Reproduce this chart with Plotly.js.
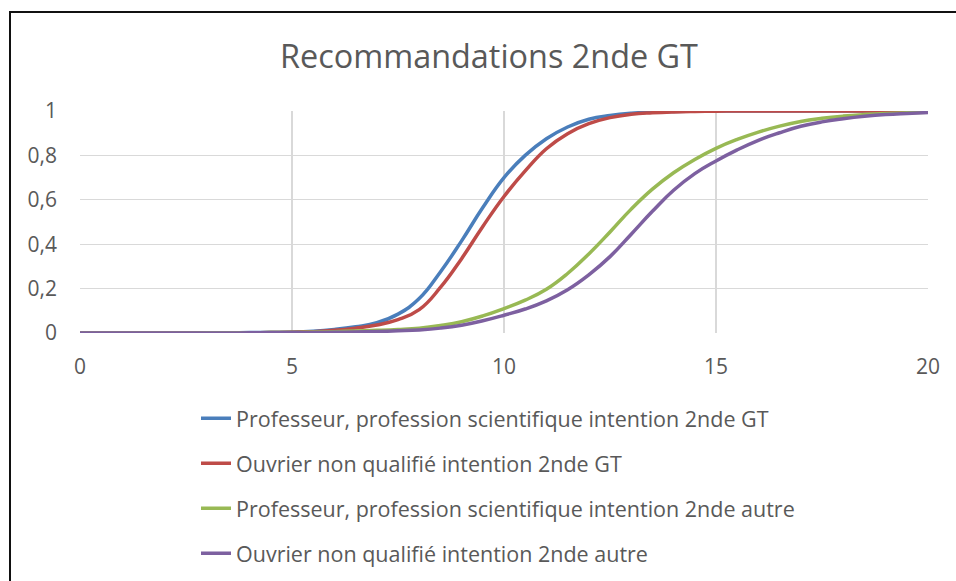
<!DOCTYPE html>
<html>
<head>
<meta charset="utf-8">
<script src="https://cdn.plot.ly/plotly-3.0.1.min.js"></script>
<style>
  html, body { margin: 0; padding: 0; background: #ffffff; }
  #wrap { position: relative; width: 956px; height: 581px; overflow: hidden; }
  #chart { width: 956px; height: 581px; }
  #frame { position: absolute; left: 9px; top: 11px; right: -4px; bottom: -4px;
           border-left: 2px solid #111; border-top: 2px solid #111; pointer-events: none; }
</style>
</head>
<body>
<div id="wrap">
  <div id="chart"></div>
  <div id="frame"></div>
</div>
<script>
const notes = [0,0.5,1,1.5,2,2.5,3,3.5,4,4.5,5,5.5,6,6.5,7,7.5,8,8.5,9,9.5,10,
               10.5,11,11.5,12,12.5,13,13.5,14,14.5,15,15.5,16,16.5,17,17.5,18,18.5,19,19.5,20];

const profGT = [0,0,0,0,0,0,0.001,0.001,0.002,0.003,0.004,0.008,0.016,0.028,0.046,0.085,0.155,0.275,0.415,0.565,0.70,
                0.80,0.875,0.928,0.963,0.98,0.99,0.995,0.998,0.999,1,1,1,1,1,1,1,1,1,1,1];
const ouvGT  = [0,0,0,0,0,0,0,0.001,0.001,0.002,0.003,0.006,0.012,0.022,0.036,0.06,0.105,0.205,0.335,0.48,0.615,
                0.73,0.83,0.898,0.943,0.97,0.985,0.992,0.996,0.998,0.999,1,1,1,1,1,1,1,1,1,1];
const profAutre = [0,0,0,0,0,0,0.001,0.001,0.001,0.002,0.002,0.004,0.006,0.009,0.012,0.016,0.022,0.034,0.051,0.077,0.11,
                   0.148,0.197,0.268,0.356,0.455,0.558,0.648,0.722,0.782,0.832,0.872,0.905,0.932,0.953,0.967,0.977,0.984,0.989,0.992,0.994];
const ouvAutre = [0,0,0,0,0,0,0,0,0.001,0.001,0.001,0.002,0.003,0.005,0.007,0.01,0.014,0.022,0.035,0.055,0.08,
                  0.108,0.145,0.195,0.262,0.344,0.445,0.548,0.643,0.718,0.775,0.825,0.868,0.902,0.931,0.951,0.965,0.976,0.984,0.989,0.993];

const seriesNames = [
  "Professeur, profession scientifique intention 2nde GT",
  "Ouvrier non qualifié intention 2nde GT",
  "Professeur, profession scientifique intention 2nde autre",
  "Ouvrier non qualifié intention 2nde autre"
];
const seriesValues = [profGT, ouvGT, profAutre, ouvAutre];
const seriesColors = ["#4A7EBB", "#BE4B48", "#98B954", "#7D60A0"];

const traces = seriesValues.map((vals, i) => ({
  type: "scatter",
  mode: "lines",
  x: notes,
  y: vals,
  name: seriesNames[i],
  legendgroup: "g" + i,
  cliponaxis: false,
  line: { color: seriesColors[i], width: 3.5, shape: "spline", smoothing: 1.3 },
  hoverinfo: "x+y"
}));

const FONT = "Open Sans, Noto Sans, Liberation Sans, sans-serif";
const layout = {
  width: 956,
  height: 581,
  margin: { l: 80, r: 28, t: 111, b: 248, pad: 0, autoexpand: false },
  paper_bgcolor: "#ffffff",
  plot_bgcolor: "#ffffff",
  separators: ", ",
  font: { family: FONT, color: "#595959" },
  title: {
    text: "Recommandations 2nde GT",
    x: 489 / 956, xref: "container", xanchor: "center",
    y: 1 - 57 / 581, yref: "container", yanchor: "middle",
    font: { family: FONT, size: 32.4, color: "#595959" }
  },
  xaxis: {
    range: [0, 20],
    tick0: 0, dtick: 5,
    showgrid: true, gridcolor: "#D9D9D9", gridwidth: 1.2,
    zeroline: false, showline: false, ticks: "",
    automargin: false,
    ticklabelstandoff: 19,
    tickfont: { family: FONT, size: 21, color: "#595959" }
  },
  yaxis: {
    range: [0, 1],
    tick0: 0, dtick: 0.2,
    showgrid: true, gridcolor: "#D9D9D9", gridwidth: 1.2,
    zeroline: false, showline: false, ticks: "",
    automargin: false,
    ticklabelstandoff: 22,
    tickfont: { family: FONT, size: 21, color: "#595959" }
  },
  showlegend: true,
  legend: {
    orientation: "v",
    x: (196 - 80) / 848, xanchor: "left",
    y: -0.292, yanchor: "top",
    bgcolor: "rgba(0,0,0,0)",
    tracegroupgap: 14,
    font: { family: FONT, size: 21.5, color: "#595959" }
  }
};

Plotly.newPlot("chart", traces, layout, { displayModeBar: false, staticPlot: true });
</script>
</body>
</html>
